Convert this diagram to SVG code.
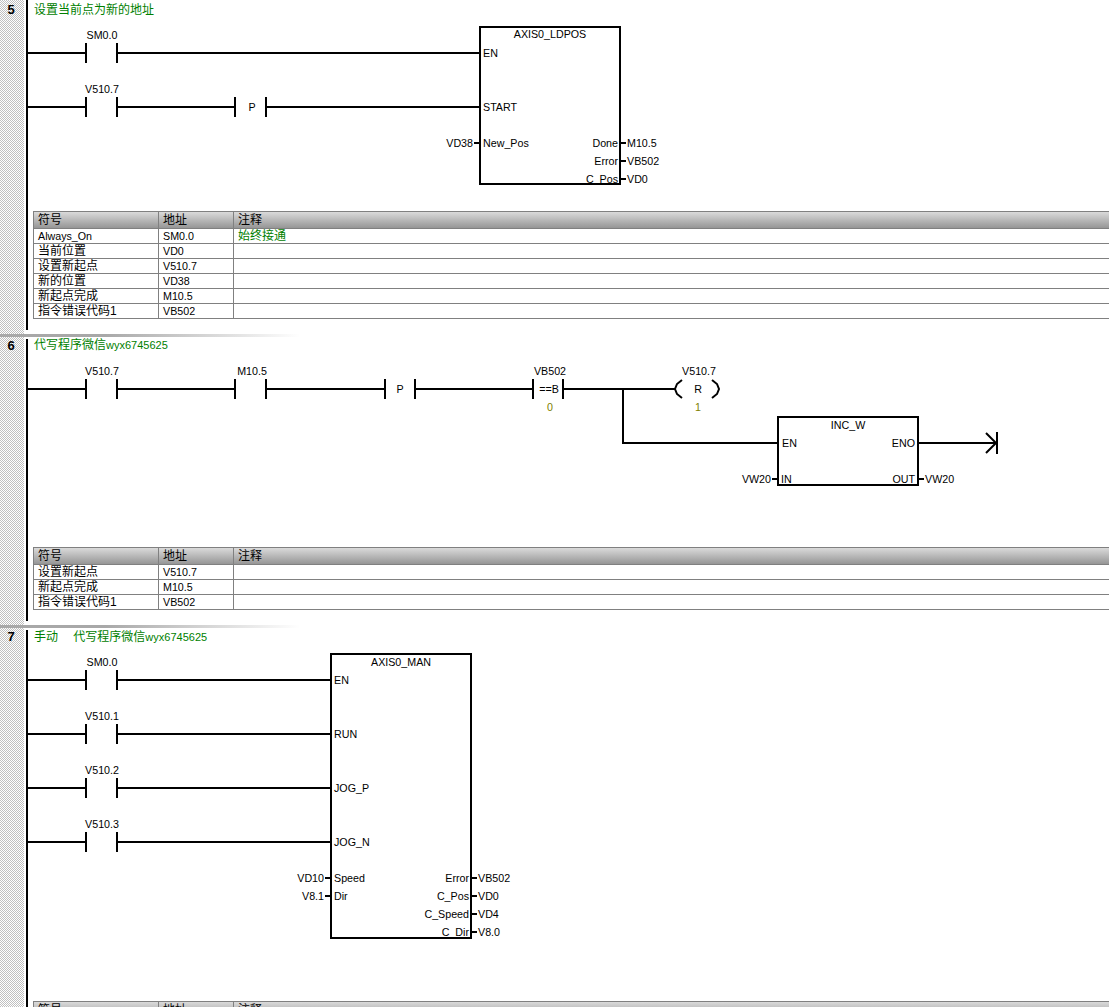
<svg xmlns="http://www.w3.org/2000/svg" width="1109" height="1007" viewBox="0 0 1109 1007">
<defs>
<pattern id="dither" width="2" height="2" patternUnits="userSpaceOnUse"><rect width="2" height="2" fill="#fff"/><rect width="1" height="1" fill="#c0c0c0"/><rect x="1" y="1" width="1" height="1" fill="#c0c0c0"/></pattern>
<linearGradient id="hdr" x1="0" y1="0" x2="0" y2="1"><stop offset="0" stop-color="#dcdcdc"/><stop offset="1" stop-color="#949494"/></linearGradient>
<linearGradient id="sep" x1="0" y1="0" x2="1" y2="0"><stop offset="0" stop-color="#a8a8a8"/><stop offset="0.35" stop-color="#a8a8a8"/><stop offset="1" stop-color="#ffffff"/></linearGradient>
</defs>
<style>
text{font-family:"Liberation Sans","Noto Sans CJK SC",sans-serif;font-size:10.7px;fill:#000}
.c{text-anchor:middle}.r{text-anchor:end}
.g{fill:#008000;font-size:12px}.o{fill:#808000}
.cjk{font-size:12px}
.n{font-weight:bold;font-size:13px;text-anchor:middle}
.w{fill:none;stroke:#000;stroke-width:2}
.t{fill:none;stroke:#808080;stroke-width:1}
.h{fill:url(#hdr);stroke:#808080;stroke-width:1}
</style>
<rect width="1109" height="1007" fill="#fff"/>
<rect x="0" y="0" width="24" height="1007" fill="url(#dither)"/>
<g id="rails" shape-rendering="crispEdges">
<rect x="0" y="334" width="300" height="3" fill="url(#sep)"/>
<rect x="0" y="625" width="300" height="3" fill="url(#sep)"/>
<rect x="26" y="0" width="2" height="330" fill="#000"/>
<rect x="26" y="339" width="2" height="282" fill="#000"/>
<rect x="26" y="630" width="2" height="377" fill="#000"/>
</g>
<g id="labels">
<text class="n" x="11" y="14">5</text>
<text class="n" x="11" y="350">6</text>
<text class="n" x="11" y="641">7</text>
<text class="g" x="34" y="14">设置当前点为新的地址</text>
<text class="g" x="34" y="349">代写程序微信<tspan font-size="11">wyx6745625</tspan></text>
<text class="g" x="34" y="641">手动　 代写程序微信<tspan font-size="11">wyx6745625</tspan></text>
</g>
<g id="connectors" shape-rendering="crispEdges">
<path class="w" d="M28 53H86M117 53H480M28 107H86M117 107H235M266 107H480M474 143H480M620 143H626M620 161H626M620 179H626"/>
<path class="w" d="M28 389H86M117 389H235M266 389H385M415 389H533M563 389H675M623 389V443H778M918 443H996M772 479H778M918 479H924"/>
<path class="w" d="M28 680H86M117 680H331M28 734H86M117 734H331M28 788H86M117 788H331M28 842H86M117 842H331M325 878H331M325 896H331M471 878H477M471 896H477M471 914H477M471 932H477"/>
</g>
<g id="rung5-contacts">
<path class="w" shape-rendering="crispEdges" d="M86 43V63M117 43V63M86 97V117M117 97V117M235 97V117M266 97V117"/>
<text class="c" x="102" y="39">SM0.0</text>
<text class="c" x="102" y="93">V510.7</text>
<text class="c" x="252" y="111">P</text>
</g>
<g id="AXIS0_LDPOS">
<rect class="w" x="480" y="27" width="140" height="157" fill="#fff" shape-rendering="crispEdges"/>
<text class="c" x="550" y="38">AXIS0_LDPOS</text>
<text x="483" y="57">EN</text>
<text x="483" y="111">START</text>
<text x="483" y="147">New_Pos</text>
<text class="r" x="618" y="147">Done</text>
<text class="r" x="618" y="165">Error</text>
<text class="r" x="618" y="183">C_Pos</text>
<text class="r" x="473" y="147">VD38</text>
<text x="627" y="147">M10.5</text>
<text x="627" y="165">VB502</text>
<text x="627" y="183">VD0</text>
</g>
<g id="table5" shape-rendering="crispEdges">
<rect class="h" x="33.500" y="211.500" width="1080" height="17"/>
<path class="t" d="M33.500 228.500V318.500H1109M33.500 243.500H1109M33.500 258.500H1109M33.500 273.500H1109M33.500 288.500H1109M33.500 303.500H1109M158.500 211.500V318.500M233.500 211.500V318.500"/>
<text class="cjk" x="38" y="224">符号</text><text class="cjk" x="163" y="224">地址</text><text class="cjk" x="238" y="224">注释</text>
<text x="38" y="240">Always_On</text><text x="163" y="240">SM0.0</text><text class="g" x="238" y="240">始终接通</text>
<text class="cjk" x="38" y="255">当前位置</text><text x="163" y="255">VD0</text>
<text class="cjk" x="38" y="270">设置新起点</text><text x="163" y="270">V510.7</text>
<text class="cjk" x="38" y="285">新的位置</text><text x="163" y="285">VD38</text>
<text class="cjk" x="38" y="300">新起点完成</text><text x="163" y="300">M10.5</text>
<text class="cjk" x="38" y="315">指令错误代码1</text><text x="163" y="315">VB502</text>
</g>
<g id="rung6-contacts">
<path class="w" shape-rendering="crispEdges" d="M86 379V399M117 379V399M235 379V399M266 379V399M385 379V399M415 379V399M533 379V399M563 379V399"/>
<text class="c" x="102" y="375">V510.7</text>
<text class="c" x="252" y="375">M10.5</text>
<text class="c" x="400" y="393">P</text>
<text class="c" x="550" y="375">VB502</text>
<text class="c" x="549" y="393">==B</text>
<text class="c o" x="550" y="411">0</text>
</g>
<g id="coil-R">
<path class="w" d="M682 380L677 384L675 389L677 394L682 398M712 380L717 384L719 389L717 394L712 398"/>
<text class="c" x="699" y="375">V510.7</text>
<text class="c" x="698" y="393">R</text>
<text class="c o" x="698" y="411">1</text>
</g>
<g id="INC_W">
<rect class="w" x="778" y="417" width="140" height="68" fill="#fff" shape-rendering="crispEdges"/>
<text class="c" x="848" y="429">INC_W</text>
<text x="782" y="447">EN</text>
<text class="r" x="915" y="447">ENO</text>
<text x="781" y="483">IN</text>
<text class="r" x="915" y="483">OUT</text>
<text class="r" x="771" y="483">VW20</text>
<text x="925" y="483">VW20</text>
</g>
<g id="end-arrow">
<path class="w" d="M986 433L996 443L986 453"/>
<path class="w" shape-rendering="crispEdges" d="M997 432V454"/>
</g>
<g id="table6" shape-rendering="crispEdges">
<rect class="h" x="33.500" y="547.500" width="1080" height="17"/>
<path class="t" d="M33.500 564.500V609.500H1109M33.500 579.500H1109M33.500 594.500H1109M158.500 547.500V609.500M233.500 547.500V609.500"/>
<text class="cjk" x="38" y="560">符号</text><text class="cjk" x="163" y="560">地址</text><text class="cjk" x="238" y="560">注释</text>
<text class="cjk" x="38" y="576">设置新起点</text><text x="163" y="576">V510.7</text>
<text class="cjk" x="38" y="591">新起点完成</text><text x="163" y="591">M10.5</text>
<text class="cjk" x="38" y="606">指令错误代码1</text><text x="163" y="606">VB502</text>
</g>
<g id="rung7-contacts">
<path class="w" shape-rendering="crispEdges" d="M86 670V690M117 670V690M86 724V744M117 724V744M86 778V798M117 778V798M86 832V852M117 832V852"/>
<text class="c" x="102" y="666">SM0.0</text>
<text class="c" x="102" y="720">V510.1</text>
<text class="c" x="102" y="774">V510.2</text>
<text class="c" x="102" y="828">V510.3</text>
</g>
<g id="AXIS0_MAN">
<rect class="w" x="331" y="654" width="140" height="284" fill="#fff" shape-rendering="crispEdges"/>
<text class="c" x="401" y="666">AXIS0_MAN</text>
<text x="334" y="684">EN</text>
<text x="334" y="738">RUN</text>
<text x="334" y="792">JOG_P</text>
<text x="334" y="846">JOG_N</text>
<text x="334" y="882">Speed</text>
<text x="334" y="900">Dir</text>
<text class="r" x="469" y="882">Error</text>
<text class="r" x="469" y="900">C_Pos</text>
<text class="r" x="469" y="918">C_Speed</text>
<text class="r" x="469" y="936">C_Dir</text>
<text class="r" x="324" y="882">VD10</text>
<text class="r" x="324" y="900">V8.1</text>
<text x="478" y="882">VB502</text>
<text x="478" y="900">VD0</text>
<text x="478" y="918">VD4</text>
<text x="478" y="936">V8.0</text>
</g>
<g id="table7" shape-rendering="crispEdges">
<rect class="h" x="33.500" y="1001.500" width="1080" height="17"/>
<path class="t" d="M158.500 1001.500V1007M233.500 1001.500V1007"/>
<text class="cjk" x="38" y="1014">符号</text><text class="cjk" x="163" y="1014">地址</text><text class="cjk" x="238" y="1014">注释</text>
</g>
</svg>
